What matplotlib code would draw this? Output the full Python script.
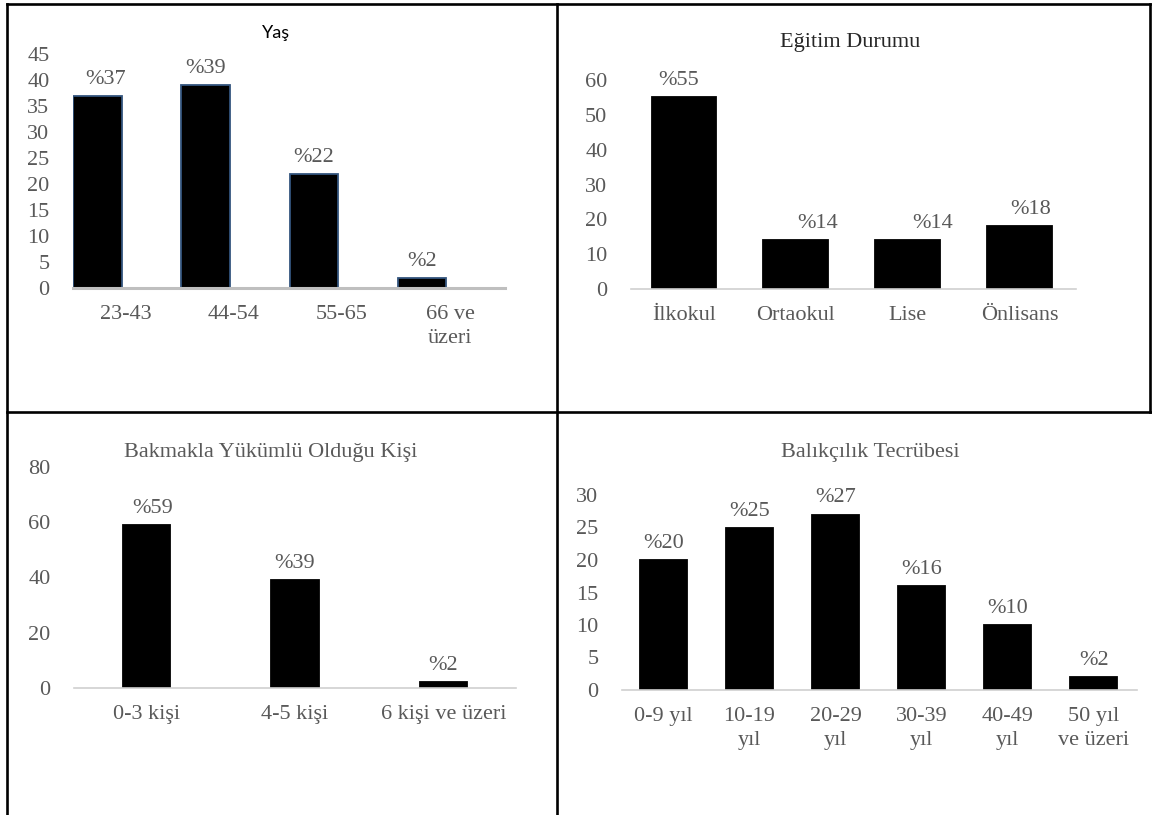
import matplotlib
matplotlib.use("Agg")
from matplotlib import pyplot as plt
from matplotlib.lines import Line2D

# survey data, percentages per group
yasKategori = ["23-43", "44-54", "55-65", "66 ve\nüzeri"]
yasDeger = [37, 39, 22, 2]

egitimKategori = ["İlkokul", "Ortaokul", "Lise", "Önlisans"]
egitimDeger = [55, 14, 14, 18]

bakmaklaKategori = ["0-3 kişi", "4-5 kişi", "6 kişi ve üzeri"]
bakmaklaDeger = [59, 39, 2]

tecrubeKategori = ["0-9 yıl", "10-19\nyıl", "20-29\nyıl", "30-39\nyıl", "40-49\nyıl", "50 yıl\nve üzeri"]
tecrubeDeger = [20, 25, 27, 16, 10, 2]

W, H = 1152, 815
SERIF = "Liberation Serif"
GREY = "#595959"
FS = 16

fig = plt.figure(figsize=(W / 100, H / 100), dpi=100)
fig.patch.set_facecolor("white")


def pxAxes(left, top, right, bottom):
    return fig.add_axes([left / W, 1 - bottom / H, (right - left) / W, (bottom - top) / H])


def pxLine(x0, y0, x1, y1, lw=1.9):
    fig.add_artist(Line2D([x0 / W, x1 / W], [1 - y0 / H, 1 - y1 / H],
                          transform=fig.transFigure, color="black", lw=lw,
                          solid_capstyle="projecting"))


def barPanel(ax, cats, vals, width, xlim, ylim, step, labelShift=0.0, nudges=None,
             edge="black", axisLw=1.2, axisColor="#d0d0d0"):
    xs = list(range(len(cats)))
    ax.bar(xs, vals, width=width, color="black", edgecolor=edge, linewidth=1.3, zorder=3)
    if nudges is None:
        nudges = [0] * len(vals)
    for x, v, dx in zip(xs, vals, nudges):
        ax.annotate("%" + str(v), (x, v), xytext=(dx, 7), textcoords="offset pixels",
                    ha="center", va="bottom", fontsize=FS, color=GREY, family=SERIF)
    ax.set_xlim(*xlim)
    ax.set_ylim(*ylim)
    ax.set_yticks(range(ylim[0], ylim[1] + 1, step))
    ax.set_xticks([x + labelShift for x in xs])
    ax.set_xticklabels(cats, linespacing=1.35)
    for lab in ax.get_xticklabels() + ax.get_yticklabels():
        lab.set_family(SERIF)
        lab.set_fontsize(FS)
        lab.set_color(GREY)
    ax.tick_params(axis="both", length=0)
    ax.tick_params(axis="y", pad=17)
    ax.tick_params(axis="x", pad=12)
    for s in ["top", "right", "left"]:
        ax.spines[s].set_visible(False)
    ax.spines["bottom"].set_color(axisColor)
    ax.spines["bottom"].set_linewidth(axisLw)
    ax.spines["bottom"].set_zorder(4)
    ax.set_facecolor("none")


# Yaş
ax1 = pxAxes(73, 54, 505, 288)
barPanel(ax1, yasKategori, yasDeger, 0.45, (-0.226, 3.766), (0, 45), 5,
         labelShift=0.26, nudges=[8, 0, 0, 0], edge="#34557e", axisLw=2.2, axisColor="#bfbfbf")
fig.text(276 / W, 1 - 33 / H, "Yaş", ha="center", va="center", fontsize=13,
         family="Lato", color="black")

# Eğitim Durumu
ax2 = pxAxes(631, 80, 1076, 289)
barPanel(ax2, egitimKategori, egitimDeger, 0.58, (-0.474, 3.506), (0, 60), 10,
         nudges=[-5, 22, 25, 11])
fig.text(850 / W, 1 - 42 / H, "Eğitim Durumu", ha="center", va="center", fontsize=FS,
         family=SERIF, color="#262626")

# Bakmakla Yükümlü Olduğu Kişi
ax3 = pxAxes(74, 467, 516, 688)
barPanel(ax3, bakmaklaKategori, bakmaklaDeger, 0.32, (-0.49, 2.49), (0, 80), 20,
         nudges=[6, 0, 0])
fig.text(271 / W, 1 - 453 / H, "Bakmakla Yükümlü Olduğu Kişi", ha="center", va="center",
         fontsize=FS, family=SERIF, color=GREY)

# Balıkçılık Tecrübesi
ax4 = pxAxes(622, 495, 1137, 690)
barPanel(ax4, tecrubeKategori, tecrubeDeger, 0.545, (-0.48, 5.5), (0, 30), 5)
fig.text(870 / W, 1 - 453 / H, "Balıkçılık Tecrübesi", ha="center", va="center",
         fontsize=FS, family=SERIF, color=GREY)

# table borders around the four panels
pxLine(6.5, 4, 1150, 4)
pxLine(6.5, 4, 6.5, 815)
pxLine(557, 4, 557, 815)
pxLine(6.5, 412, 1152, 412)
pxLine(1150, 4, 1150, 412)

fig.savefig("out.png", dpi=100, facecolor="white")
